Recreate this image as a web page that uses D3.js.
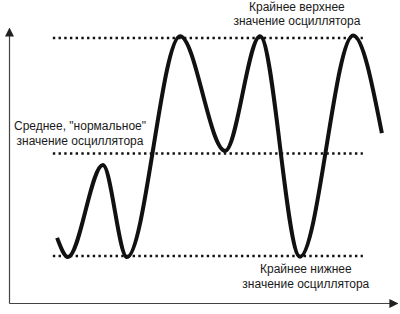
<html>
<head>
  <script src="https://d3js.org/d3.v7.min.js"></script>
  <style>
    body { margin: 0; background: #fff; }
    text { font-family: "Liberation Sans", Arial, sans-serif; font-size: 12px; fill: #1a1a1a; }
  </style>
</head>
<body>
  <div id="chart"></div>
  <script>
    // oscillator wave: turning points (x = time, y = oscillator value)
    const waveX = [12.4, 15.2, 24.2, 30.4, 44.1, 55.7, 64.7, 75.0, 88.7, 96.1];
    const waveY = [8.3, -0.5, 41.7, -0.5, 100.8, 48.2, 100.8, -0.3, 101.2, 56.4];

    // reference levels
    const levelNames = ["upper", "middle", "lower"];
    const levelValues = [100, 47, 0];
    const levelStart = 11.3;
    const levelEnd = 91.2;

    // captions
    const captionLines = [
      ["Крайнее верхнее", "значение осциллятора"],
      ["Среднее, \"нормальное\"", "значение осциллятора"],
      ["Крайнее нижнее", "значение осциллятора"]
    ];
    const captionX = [74.2, 18.3, 76.5];
    const captionY = [112.6, 57.6, -7.8];

    const w = 400;
    const h = 314;

    const svg = d3.select("#chart")
      .append("svg")
      .attr("width", w)
      .attr("height", h);

    const xScale = d3.scaleLinear()
      .domain([0, 100])
      .range([9, 397]);

    const yScale = d3.scaleLinear()
      .domain([0, 100])
      .range([256, 38]);

    // Arrow heads
    const defs = svg.append("defs");
    defs.append("marker")
      .attr("id", "arrow")
      .attr("viewBox", "0 0 10 10")
      .attr("refX", 9)
      .attr("refY", 5)
      .attr("markerWidth", 9)
      .attr("markerHeight", 9)
      .attr("markerUnits", "userSpaceOnUse")
      .attr("orient", "auto")
      .append("path")
      .attr("d", "M0,0L10,5L0,10Z")
      .style("fill", "#222");

    // Axes (no ticks, just arrows)
    const yAxisScale = yScale.copy().domain([yScale.invert(303), yScale.invert(28)]).range([303, 28]);

    const xAxis = d3.axisBottom(xScale).tickValues([]).tickSizeOuter(0);
    const yAxis = d3.axisLeft(yAxisScale).tickValues([]).tickSizeOuter(0);

    svg.append("g")
      .attr("id", "x-axis")
      .attr("transform", "translate(0,303)")
      .call(xAxis);

    svg.append("g")
      .attr("id", "y-axis")
      .attr("transform", "translate(9,0)")
      .call(yAxis);

    svg.selectAll(".domain")
      .attr("stroke", "#444")
      .attr("stroke-width", 1.2)
      .attr("marker-end", "url(#arrow)");

    // Dotted levels
    svg.selectAll(".level")
      .data(levelValues)
      .enter()
      .append("line")
      .attr("class", "level")
      .attr("x1", xScale(levelStart))
      .attr("x2", xScale(levelEnd))
      .attr("y1", (d) => yScale(d))
      .attr("y2", (d) => yScale(d))
      .style("stroke", "#111")
      .style("stroke-width", 2.6)
      .style("stroke-dasharray", "2.4,3.3");

    // Oscillator
    const points = waveX.map((x, i) => [x, waveY[i]]);
    const line = d3.line()
      .x((d) => xScale(d[0]))
      .y((d) => yScale(d[1]))
      .curve(d3.curveMonotoneX);

    svg.append("path")
      .datum(points)
      .attr("d", line)
      .style("fill", "none")
      .style("stroke", "#111")
      .style("stroke-width", 4)
      .style("stroke-linejoin", "round");

    // Captions
    captionLines.forEach((lines, i) => {
      const t = svg.append("text")
        .attr("x", xScale(captionX[i]))
        .attr("y", yScale(captionY[i]))
        .style("text-anchor", "middle");
      lines.forEach((s, j) => {
        t.append("tspan")
          .attr("x", xScale(captionX[i]))
          .attr("dy", j == 0 ? 0 : 14.5)
          .text(s);
      });
    });
  </script>
</body>
</html>
